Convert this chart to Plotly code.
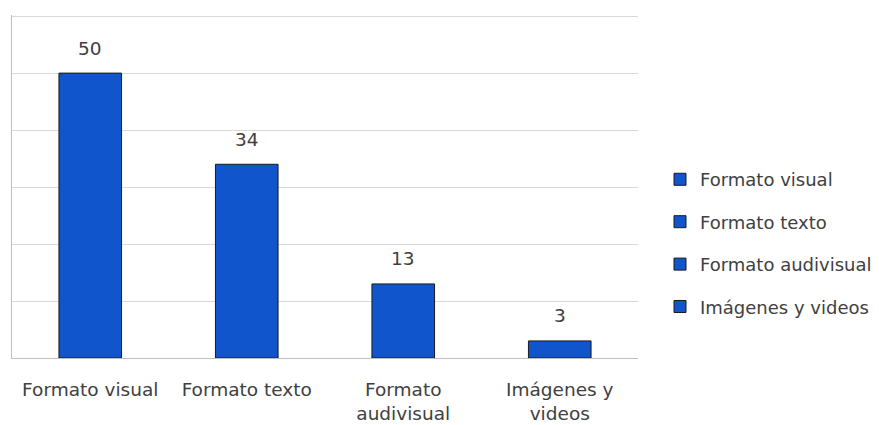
import plotly.graph_objects as go

# Categories, axis labels and counts
categories = ["Formato visual", "Formato texto", "Formato audivisual", "Imágenes y videos"]
tick_labels = ["Formato visual", "Formato texto", "Formato<br>audivisual", "Imágenes y<br>videos"]
values = [50, 34, 13, 3]

bar_color = "#1155CC"
text_color = "#404040"
font_family = "DejaVu Sans, sans-serif"
font_size = 18.5
legend_font_size = 18

fig = go.Figure()
for i, (cat, val) in enumerate(zip(categories, values)):
    fig.add_trace(go.Bar(
        x=[cat],
        y=[val],
        name=cat,
        legendgroup=f"g{i}",
        marker=dict(color=bar_color, line=dict(color="#1a1a1a", width=1)),
        width=0.4,
    ))
    # value label above each bar
    fig.add_annotation(
        x=cat, y=val, text=str(val),
        showarrow=False, yanchor="middle", yshift=25,
        font=dict(size=font_size, color=text_color, family=font_family),
    )

fig.update_layout(
    width=879,
    height=425,
    margin=dict(l=12, r=241, t=15, b=67, autoexpand=False),
    paper_bgcolor="white",
    plot_bgcolor="white",
    barmode="overlay",
    font=dict(family=font_family, size=font_size, color=text_color),
    showlegend=True,
    legend=dict(
        x=(660 - 12) / 626, xanchor="left",
        y=0.335, yanchor="middle",
        font=dict(size=legend_font_size, color=text_color, family=font_family),
        tracegroupgap=16,
        itemwidth=30,
        bgcolor="rgba(0,0,0,0)",
    ),
    xaxis=dict(
        categoryorder="array",
        categoryarray=categories,
        tickmode="array",
        tickvals=categories,
        ticktext=tick_labels,
        showline=True,
        linecolor="#bfbfbf",
        linewidth=1,
        showgrid=False,
        ticks="",
        ticklabelstandoff=15,
        automargin=False,
        tickfont=dict(size=font_size, color=text_color),
    ),
    yaxis=dict(
        range=[0, 60.2],
        dtick=10,
        showticklabels=False,
        showgrid=True,
        gridcolor="#d9d9d9",
        gridwidth=1,
        showline=True,
        linecolor="#bfbfbf",
        linewidth=1,
        zeroline=False,
        ticks="",
        automargin=False,
    ),
)

fig.write_html("out.html")
